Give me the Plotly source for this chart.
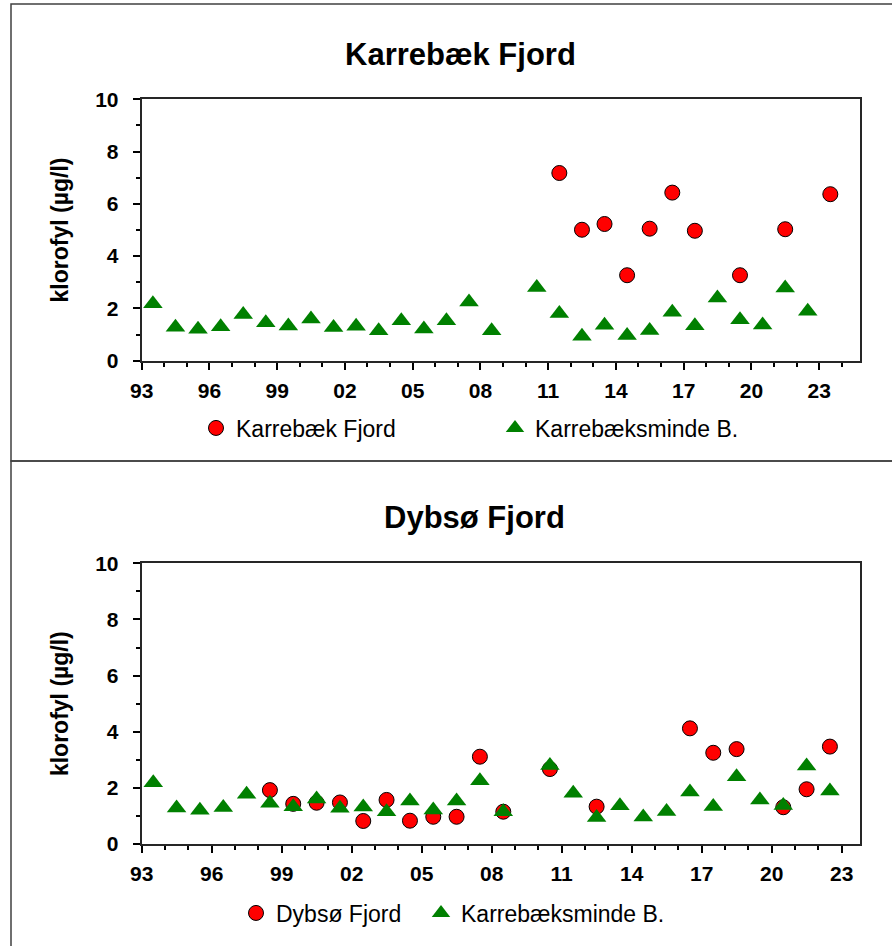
import plotly.graph_objects as go

# Karrebæksminde B. (reference station, shown in both panels)
kb_years = [1993, 1994, 1995, 1996, 1997, 1998, 1999, 2000, 2001, 2002, 2003, 2004,
            2005, 2006, 2007, 2008, 2010, 2011, 2012, 2013, 2014, 2015, 2016, 2017,
            2018, 2019, 2020, 2021, 2022]
kb_values = [2.18, 1.28, 1.20, 1.30, 1.77, 1.45, 1.33, 1.60, 1.27, 1.32, 1.15, 1.53,
             1.21, 1.53, 2.25, 1.15, 2.80, 1.81, 0.94, 1.36, 0.96, 1.16, 1.85, 1.34,
             2.40, 1.57, 1.37, 2.78, 1.89]

# Karrebæk Fjord
karrebaek_years = [2011, 2012, 2013, 2014, 2015, 2016, 2017, 2019, 2021, 2023]
karrebaek_values = [7.18, 5.01, 5.23, 3.27, 5.05, 6.43, 4.97, 3.27, 5.03, 6.37]

# Dybsø Fjord
dybsoe_years = [1998, 1999, 2000, 2001, 2002, 2003, 2004, 2005, 2006, 2007, 2008,
                2010, 2012, 2016, 2017, 2018, 2020, 2021, 2022]
dybsoe_values = [1.92, 1.43, 1.47, 1.48, 0.82, 1.57, 0.83, 0.97, 0.97, 3.11, 1.15,
                 2.67, 1.33, 4.12, 3.25, 3.38, 1.31, 1.95, 3.47]

panel_titles = ["Karrebæk Fjord", "Dybsø Fjord"]
y_title = "klorofyl (µg/l)"

W, H = 892, 946
FONT = "Liberation Sans, Arial, sans-serif"


def mid_year(years):
    # annual means plotted at mid-year
    return [f"{y}-07-01" for y in years]


def px_x(p):
    return p / W


def px_y(p):
    return 1 - p / H


circle_style = dict(symbol="circle", size=15, color="#ff0000",
                    line=dict(color="#000000", width=1))
triangle_style = dict(symbol="triangle-up", size=17, color="#008000",
                      line=dict(width=0))

fig = go.Figure()

# upper panel
fig.add_trace(go.Scatter(x=mid_year(karrebaek_years), y=karrebaek_values, mode="markers",
                         marker=circle_style, name="Karrebæk Fjord",
                         xaxis="x", yaxis="y", legend="legend"))
fig.add_trace(go.Scatter(x=mid_year(kb_years), y=kb_values, mode="markers",
                         marker=triangle_style, name="Karrebæksminde B.",
                         xaxis="x", yaxis="y", legend="legend", legendwidth=260))
# lower panel
fig.add_trace(go.Scatter(x=mid_year(dybsoe_years), y=dybsoe_values, mode="markers",
                         marker=circle_style, name="Dybsø Fjord",
                         xaxis="x2", yaxis="y2", legend="legend2"))
fig.add_trace(go.Scatter(x=mid_year(kb_years), y=kb_values, mode="markers",
                         marker=triangle_style, name="Karrebæksminde B.",
                         xaxis="x2", yaxis="y2", legend="legend2", legendwidth=260))

tick_font = dict(family=FONT, size=21, color="#000000", weight="bold")


def x_axis(domain_px, end_date, anchor):
    return dict(
        type="date", domain=[px_x(domain_px[0]), px_x(domain_px[1])], anchor=anchor,
        range=["1993-01-01", end_date], automargin=False,
        tick0="1993-01-01", dtick="M36", tickformat="%y",
        ticks="outside", ticklen=7, tickwidth=2, tickcolor="#000000",
        ticklabelstandoff=3,
        minor=dict(tick0="1993-01-01", dtick="M12", ticks="outside", ticklen=4,
                   tickwidth=2, tickcolor="#000000", showgrid=False),
        showline=True, mirror=True, linecolor="#262626", linewidth=2,
        showgrid=False, zeroline=False, tickfont=tick_font, fixedrange=True,
    )


def y_axis(top_px, bottom_px, anchor):
    return dict(
        domain=[px_y(bottom_px), px_y(top_px)], anchor=anchor,
        range=[0, 10], tick0=0, dtick=2, automargin=False,
        ticks="outside", ticklen=7, tickwidth=2, tickcolor="#000000",
        ticklabelstandoff=10,
        minor=dict(dtick=1, ticks="outside", ticklen=4, tickwidth=2,
                   tickcolor="#000000", showgrid=False),
        showline=True, mirror=True, linecolor="#262626", linewidth=2,
        showgrid=False, zeroline=False, tickfont=tick_font, fixedrange=True,
        title=dict(text=y_title, standoff=20,
                   font=dict(family=FONT, size=23, color="#000000", weight="bold")),
    )


legend_font = dict(family=FONT, size=23, color="#000000")

fig.update_layout(
    template="none",
    width=W, height=H, autosize=False,
    margin=dict(l=0, r=0, t=0, b=0, pad=0, autoexpand=False),
    paper_bgcolor="#ffffff", plot_bgcolor="#ffffff",
    font=dict(family=FONT, color="#000000"),
    xaxis=x_axis((141.7, 860), "2024-10-23", "y"),
    yaxis=y_axis(99.3, 360.7, "x"),
    xaxis2=x_axis((141.7, 860), "2023-10-15", "y2"),
    yaxis2=y_axis(563.3, 844, "x2"),
    legend=dict(orientation="h", x=px_x(196), xanchor="left", y=px_y(428), yanchor="middle",
                entrywidth=254, font=legend_font, bgcolor="rgba(0,0,0,0)", borderwidth=0,
                itemclick=False, itemdoubleclick=False),
    legend2=dict(orientation="h", x=px_x(236), xanchor="left", y=px_y(913), yanchor="middle",
                 entrywidth=140, font=legend_font, bgcolor="rgba(0,0,0,0)", borderwidth=0,
                 itemclick=False, itemdoubleclick=False),
    showlegend=True,
)

# panel titles
for text, cx, cy in [(panel_titles[0], 460, 55), (panel_titles[1], 474, 517)]:
    fig.add_annotation(text=text, x=px_x(cx), y=px_y(cy), xref="paper", yref="paper",
                       xanchor="center", yanchor="middle", showarrow=False,
                       font=dict(family=FONT, size=31, color="#000000", weight="bold"))

# panel frames
frame = dict(type="rect", xref="paper", yref="paper", line=dict(color="#404040", width=1.5),
             fillcolor="rgba(0,0,0,0)", layer="below")
fig.add_shape(x0=px_x(11), x1=1.02, y0=px_y(461), y1=px_y(4), **frame)
fig.add_shape(x0=px_x(11), x1=1.02, y0=-0.02, y1=px_y(461), **frame)

fig.write_html("out.html")
